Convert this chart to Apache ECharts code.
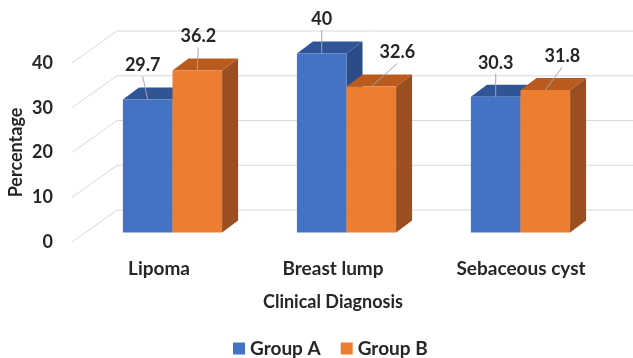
<!DOCTYPE html>
<html>
<head>
<meta charset="utf-8">
<script src="https://cdn.jsdelivr.net/npm/echarts@6/dist/echarts.min.js"></script>
<style>
  html, body { margin: 0; padding: 0; background: #fff; }
  #chart { width: 633px; height: 358px; }
</style>
</head>
<body>
<div id="chart"></div>
<script>
const categories = ["Lipoma", "Breast lump", "Sebaceous cyst"];
const groupA = [29.7, 40, 30.3];
const groupB = [36.2, 32.6, 31.8];
const yTicks = [0, 10, 20, 30, 40];

// faux 3D: depth of the floor/back wall, and where the bars stand inside it
const BOX_DX = 45, BOX_DY = -32;
const BAR_POS = 0.3;
const BAR_DX = 16, BAR_DY = -12;
const BAR_RATIO = 0.285;
const FONT = "Lato";
const INK = "#262626";

const COLORS = [
    { front: "#4472C4", top: "#2F5597", side: "#2A4C88" },
    { front: "#ED7D31", top: "#B95B1F", side: "#9B4E1E" },
];
// label nudges where Excel pushed them sideways
const NUDGE = [[-5, 0, 0], [1, 26, 17]];

const chart = echarts.init(document.getElementById("chart"));

function gridRender(params, api) {
    const cs = params.coordSys;
    const y = api.coord([0, api.value(1)])[1];
    const x0 = cs.x;
    return {
        type: "polyline",
        shape: { points: [[x0, y], [x0 + BOX_DX, y + BOX_DY], [cs.x + cs.width + BOX_DX + 10, y + BOX_DY]] },
        style: { stroke: "#D9D9D9", lineWidth: 1, fill: null },
        silent: true,
    };
}

function barRender(s) {
    return function (params, api) {
        const cat = api.value(0);
        const val = api.value(1);
        const base = api.coord([cat, 0]);
        const top = api.coord([cat, val]);
        const w = api.size([1, 0])[0] * BAR_RATIO;
        const x0 = base[0] + BOX_DX * BAR_POS + (s === 0 ? -w : 0);
        const x1 = x0 + w;
        const yb = base[1] + BOX_DY * BAR_POS;
        const yt = top[1] + BOX_DY * BAR_POS;
        const c = COLORS[s];
        const cx = (x0 + x1) / 2;
        const lx = cx + NUDGE[s][cat];
        const ly = yt - 34;
        return {
            type: "group",
            children: [
                { type: "polygon", shape: { points: [[x1, yt], [x1 + BAR_DX, yt + BAR_DY], [x1 + BAR_DX, yb + BAR_DY], [x1, yb]] }, style: { fill: c.side } },
                { type: "polygon", shape: { points: [[x0, yt], [x1, yt], [x1 + BAR_DX, yt + BAR_DY], [x0 + BAR_DX, yt + BAR_DY]] }, style: { fill: c.top } },
                { type: "rect", shape: { x: x0, y: yt, width: w, height: yb - yt }, style: { fill: c.front } },
                { type: "line", shape: { x1: lx, y1: ly + 11, x2: cx, y2: yt }, style: { stroke: "#A6A6A6", lineWidth: 1 } },
                {
                    type: "text",
                    x: lx, y: ly,
                    style: {
                        text: String(val),
                        fill: INK,
                        font: "bold 18px " + FONT,
                        align: "center",
                        verticalAlign: "middle",
                    },
                },
            ],
        };
    };
}

chart.setOption({
    backgroundColor: "#fff",
    textStyle: { fontFamily: FONT },
    animation: false,
    grid: { left: 72, right: 39, top: 63, bottom: 116, containLabel: false, outerBoundsMode: "none" },
    legend: {
        data: ["Group A", "Group B"],
        top: 334,
        left: 228,
        icon: "rect",
        itemWidth: 12,
        itemHeight: 12,
        itemGap: 20,
        textStyle: { color: INK, fontSize: 19, fontWeight: "bold", fontFamily: FONT },
    },
    xAxis: {
        type: "category",
        data: categories,
        axisLine: { show: false },
        axisTick: { show: false },
        axisLabel: {
            interval: 0,
            margin: 17,
            color: INK,
            fontSize: 19,
            fontWeight: "bold",
            formatter: (v) => (v === "Sebaceous cyst" ? "{s|" + v + "}" : v),
            rich: { s: { fontSize: 19, fontWeight: "bold", color: INK, padding: [0, 0, 0, 28] } },
        },
        name: "Clinical Diagnosis",
        nameLocation: "middle",
        nameGap: 51,
        nameMoveOverlap: false,
        nameTextStyle: { color: INK, fontSize: 18, fontWeight: "bold" },
    },
    yAxis: {
        type: "value",
        min: 0,
        max: 40,
        interval: 10,
        axisLine: { show: false },
        axisTick: { show: false },
        splitLine: { show: false },
        axisLabel: { margin: 19, color: INK, fontSize: 18, fontWeight: "bold" },
        name: "Percentage",
        nameLocation: "middle",
        nameRotate: 90,
        nameGap: 47,
        nameMoveOverlap: false,
        nameTextStyle: { color: INK, fontSize: 18, fontWeight: "bold" },
    },
    series: [
        {
            type: "custom",
            name: "grid",
            renderItem: gridRender,
            data: yTicks.map((v) => [0, v]),
            encode: { x: 0, y: 1 },
            silent: true,
            z: 1,
        },
        {
            type: "custom",
            name: "Group A",
            renderItem: barRender(0),
            data: groupA.map((v, i) => [i, v]),
            encode: { x: 0, y: 1 },
            itemStyle: { color: COLORS[0].front },
            z: 2,
        },
        {
            type: "custom",
            name: "Group B",
            renderItem: barRender(1),
            data: groupB.map((v, i) => [i, v]),
            encode: { x: 0, y: 1 },
            itemStyle: { color: COLORS[1].front },
            z: 3,
        },
    ],
});
</script>
</body>
</html>
